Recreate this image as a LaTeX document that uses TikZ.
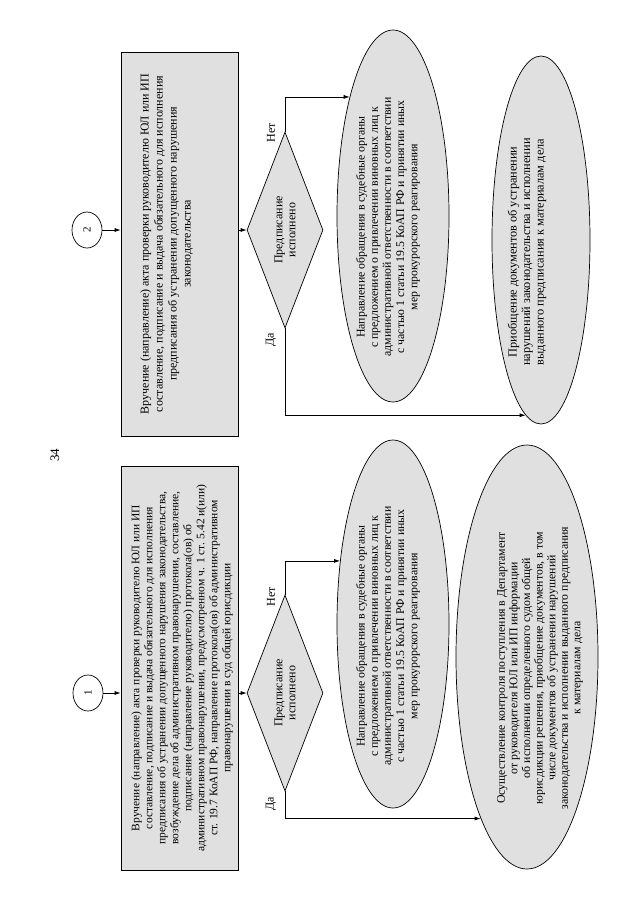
\documentclass[tikz,border=0pt]{standalone}
\usepackage{fontspec}
\setmainfont{Liberation Serif}
\usetikzlibrary{shapes.geometric,arrows.meta}
\begin{document}
\begin{tikzpicture}[x=1pt,y=-1pt,
  every node/.style={rotate=90},
  line width=0.7pt,
  blk/.style={draw, fill=black!12, rectangle, inner sep=0pt},
  dec/.style={draw, fill=black!12, diamond, aspect=2.5, inner sep=0pt,
    minimum width=196pt, minimum height=76pt, align=center,
    font=\fontsize{12}{13}\selectfont},
  ell/.style={draw, fill=black!12, ellipse, inner sep=0pt},
  circ/.style={draw, ellipse, inner sep=0pt, minimum width=36pt,
    minimum height=30pt, font=\fontsize{11}{12}\selectfont},
  arr/.style={-{Latex[length=6pt,width=4pt]}},
  btxt/.style={align=center, inner sep=0pt, font=\fontsize{12}{14}\selectfont},
  etxt/.style={align=center, inner sep=0pt, font=\fontsize{11.8}{13.2}\selectfont},
  lbl/.style={inner sep=0pt, font=\fontsize{12}{13}\selectfont}
]
\useasboundingbox (0,0) rectangle (639,905);

\node[lbl, font=\fontsize{13}{14}\selectfont] (pg) at (55,455) {34};

% ---------- flow 2 (upper half of page) ----------
\node[circ] (c2) at (87,230) {2};
\node[blk, minimum width=384pt, minimum height=117pt] (b2) at (179.5,244) {};
\node[btxt] (t2) at (166.5,244) {Вручение (направление) акта проверки руководителю ЮЛ или ИП\\
составление, подписание и выдача обязательного для исполнения\\
предписания об устранении допущенного нарушения\\
законодательства};
\node[dec] (d2) at (285,230) {Предписание\\исполнено};
\node[ell, minimum width=372pt, minimum height=112pt] (e2a) at (393,216) {};
\node[etxt] (t2a) at (388,227) {Направление обращения в судебные органы\\
с предложением о привлечении виновных лиц к\\
административной ответственности в соответствии\\
с частью 1 статьи 19.5 КоАП РФ и принятии иных\\
мер прокурорского реагирования};
\node[ell, minimum width=368pt, minimum height=98pt] (e2b) at (541,240) {};
\node[etxt, font=\fontsize{12.3}{13.6}\selectfont] (t2b) at (527,252) {Приобщение документов об устранении\\
нарушений законодательства и исполнении\\
выданного предписания к материалам дела};
\node[lbl] (n2) at (271,133) {Нет};
\node[lbl] (y2) at (271,340) {Да};

\draw[arr] (c2.south) -- (c2.south -| b2.north);
\draw[arr] (c2.south -| b2.south) -- (d2.north);
\draw[arr] (d2.east) |- (e2a.20);
\draw[arr] (d2.west) |- (e2b.175);

% ---------- flow 1 (lower half of page) ----------
\node[circ] (c1) at (88,693) {1};
\node[blk, minimum width=404pt, minimum height=117pt] (b1) at (179.5,668) {};
\node[btxt, font=\fontsize{11.5}{13}\selectfont] (t1) at (182,668) {Вручение (направление) акта проверки руководителю ЮЛ или ИП\\
составление, подписание и выдача обязательного для исполнения\\
предписания об устранении допущенного нарушения законодательства,\\
возбуждение дела об административном правонарушении, составление,\\
подписание (направление руководителю) протокола(ов) об\\
административном правонарушении, предусмотренном ч. 1 ст. 5.42 и(или)\\
ст. 19.7 КоАП РФ, направление протокола(ов) об административном\\
правонарушении в суд общей юрисдикции};
\node[dec] (d1) at (285,693) {Предписание\\исполнено};
\node[ell, minimum width=368pt, minimum height=112pt] (e1a) at (393,624) {};
\node[etxt] (t1a) at (388,636) {Направление обращения в судебные органы\\
с предложением о привлечении виновных лиц к\\
административной ответственности в соответствии\\
с частью 1 статьи 19.5 КоАП РФ и принятии иных\\
мер прокурорского реагирования};
\node[ell, minimum width=424pt, minimum height=142pt] (e1b) at (527,657) {};
\node[etxt, font=\fontsize{11.8}{12.6}\selectfont] (t1b) at (540,668) {Осуществление контроля поступления в Департамент\\
от руководителя ЮЛ или ИП информации\\
об исполнении определенного судом общей\\
юрисдикции решения, приобщение документов, в том\\
числе документов об устранении нарушений\\
законодательства и исполнении выданного предписания\\
к материалам дела};
\node[lbl] (n1) at (271,597) {Нет};
\node[lbl] (y1) at (271,804) {Да};

\draw[arr] (c1.south) -- (c1.south -| b1.north);
\draw[arr] (c1.south -| b1.south) -- (d1.north);
\draw[arr] (d1.east) |- (e1a.40);
\draw[arr] (d1.west) |- (e1b.164);
\end{tikzpicture}
\end{document}
